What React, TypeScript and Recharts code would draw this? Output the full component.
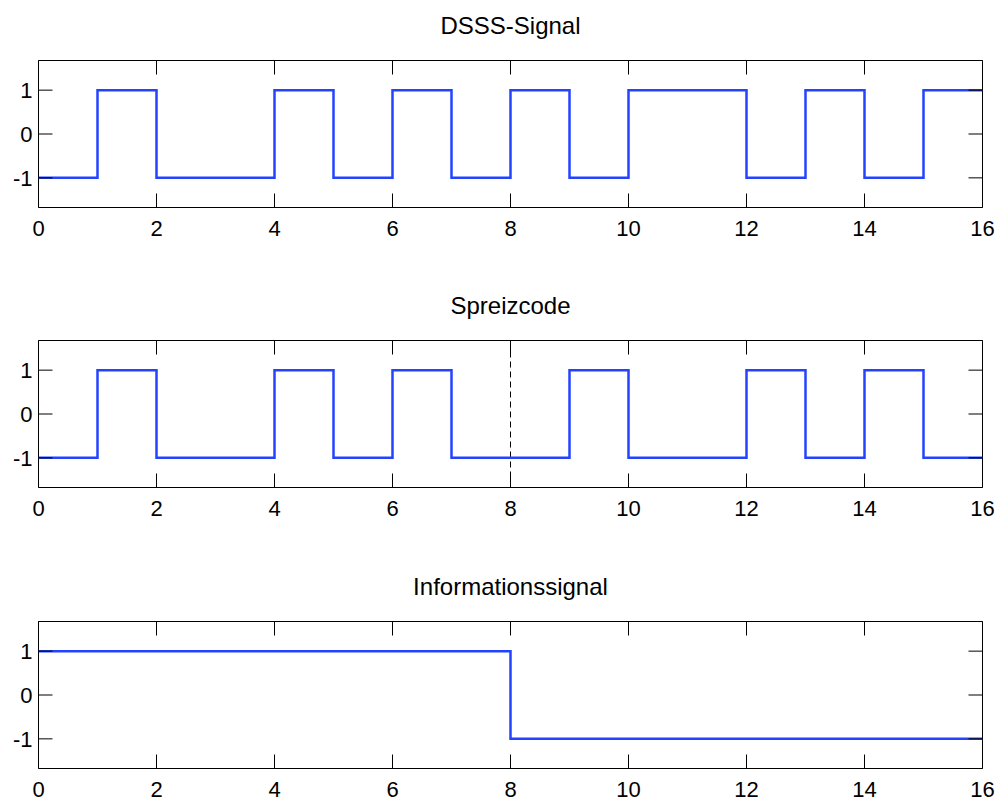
import React from "react";
import { LineChart, Line, XAxis, YAxis, ReferenceArea, ReferenceLine, Customized } from "recharts";

const times = [0, 1, 2, 3, 4, 5, 6, 7, 8, 9, 10, 11, 12, 13, 14, 15, 16];
const dsssValues = [-1, 1, -1, -1, 1, -1, 1, -1, 1, -1, 1, 1, -1, 1, -1, 1, 1];
const codeValues = [-1, 1, -1, -1, 1, -1, 1, -1, -1, 1, -1, -1, 1, -1, 1, -1, -1];
const infoValues = [1, 1, 1, 1, 1, 1, 1, 1, -1, -1, -1, -1, -1, -1, -1, -1, -1];
const xTicks = [0, 2, 4, 6, 8, 10, 12, 14, 16];
const yTicks = [-1, 0, 1];
const titles = ["DSSS-Signal", "Spreizcode", "Informationssignal"];

const Y_MIN = -1.676;
const Y_MAX = 1.676;

const W = 1000;
const H = 239;
const LEFT = 38.5;
const RIGHT = 17.5;
const TOP = 60.5;
const PH = 147;
const XAXIS_H = 31;
const PW = W - LEFT - RIGHT;
const FONT = "'Liberation Sans', Arial, Helvetica, sans-serif";
const LINE_COLOR = "#2343ff";

const XTick = (props: any) => {
  const { x, y, payload } = props;
  return (
    <g>
      <line x1={x} y1={y} x2={x} y2={y - 14} stroke="#000" strokeWidth={1} />
      <line x1={x} y1={y - PH} x2={x} y2={y - PH + 14} stroke="#000" strokeWidth={1} />
      <text x={x} y={y + 28} textAnchor="middle" fontSize={22} fontFamily={FONT} fill="#000">
        {payload.value}
      </text>
    </g>
  );
};

const YTick = (props: any) => {
  const { x, y, payload } = props;
  return (
    <g>
      <line x1={x} y1={y} x2={x + 14} y2={y} stroke="#000" strokeWidth={1} />
      <line x1={x + PW - 14} y1={y} x2={x + PW} y2={y} stroke="#000" strokeWidth={1} />
      <text x={x - 6} y={y + 8} textAnchor="end" fontSize={22} fontFamily={FONT} fill="#000">
        {payload.value}
      </text>
    </g>
  );
};

const Title = ({ text }: { text: string }) => (
  <text x={LEFT + PW / 2} y={TOP - 27} textAnchor="middle" fontSize={24} fontFamily={FONT} fill="#000">
    {text}
  </text>
);

function Panel({ values, title, dashed }: { values: number[]; title: string; dashed?: boolean }) {
  const data = times.map((t, i) => ({ t, v: values[i] }));
  return (
    <LineChart
      width={W}
      height={H}
      data={data}
      margin={{ top: TOP, right: RIGHT, bottom: H - TOP - PH - XAXIS_H, left: 0 }}
    >
      <XAxis
        dataKey="t"
        type="number"
        domain={[0, 16]}
        ticks={xTicks}
        tick={<XTick />}
        tickSize={0}
        tickMargin={0}
        tickLine={false}
        axisLine={false}
        height={XAXIS_H}
        allowDataOverflow
        interval={0}
      />
      <YAxis
        type="number"
        domain={[Y_MIN, Y_MAX]}
        ticks={yTicks}
        tick={<YTick />}
        tickSize={0}
        tickMargin={0}
        tickLine={false}
        axisLine={false}
        width={LEFT}
        allowDataOverflow
        interval={0}
      />
      <ReferenceArea
        x1={0}
        x2={16}
        y1={Y_MIN}
        y2={Y_MAX}
        fill="none"
        fillOpacity={0}
        stroke="#000"
        strokeWidth={1}
        strokeOpacity={1}
        ifOverflow="visible"
      />
      {dashed && <ReferenceLine x={8} stroke="#000" strokeWidth={1} strokeDasharray="6 4" />}
      <Line
        type="stepAfter"
        dataKey="v"
        stroke={LINE_COLOR}
        strokeWidth={2.5}
        dot={false}
        activeDot={false}
        isAnimationActive={false}
      />
      <Customized component={<Title text={title} />} />
    </LineChart>
  );
}

export default function App() {
  return (
    <div
      style={{
        position: "absolute",
        left: 0,
        top: 0,
        width: 1000,
        height: 800,
        background: "#fff",
        overflow: "hidden",
      }}
    >
      <div style={{ position: "absolute", left: 0, top: 0 }}>
        <Panel values={dsssValues} title={titles[0]} />
      </div>
      <div style={{ position: "absolute", left: 0, top: 280 }}>
        <Panel values={codeValues} title={titles[1]} dashed />
      </div>
      <div style={{ position: "absolute", left: 0, top: 561 }}>
        <Panel values={infoValues} title={titles[2]} />
      </div>
    </div>
  );
}
